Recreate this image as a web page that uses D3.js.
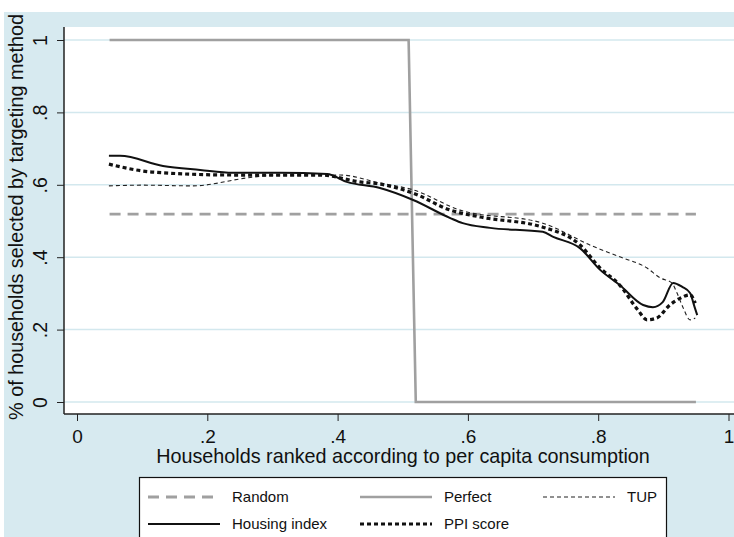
<!DOCTYPE html>
<html lang="en">
<head>
<meta charset="UTF-8">
<title>Targeting methods</title>
<script src="https://d3js.org/d3.v7.min.js"></script>
<style>
	body { margin: 0; padding: 0; background: #fff; }
	svg { display: block; font-family: "Liberation Sans", Arial, sans-serif; }
</style>
</head>
<body>
<div id="chart"></div>
<script>
	// values
	const xTicks = [0, 0.2, 0.4, 0.6, 0.8, 1];
	const yTicks = [0, 0.2, 0.4, 0.6, 0.8, 1];

	const randomX = [0.05, 0.95];
	const randomY = [0.519, 0.519];

	const perfectX = [0.05, 0.509, 0.52, 0.95];
	const perfectY = [1, 1, 0, 0];

	const housingX = [0.049, 0.066, 0.132, 0.189, 0.239, 0.312, 0.384, 0.414, 0.465, 0.516, 0.573, 0.592, 0.634, 0.715, 0.731, 0.772, 0.803, 0.833, 0.869, 0.884, 0.899, 0.915, 0.929, 0.941, 0.948, 0.952];
	const housingY = [0.680, 0.680, 0.652, 0.641, 0.633, 0.633, 0.630, 0.608, 0.591, 0.558, 0.508, 0.494, 0.481, 0.470, 0.456, 0.425, 0.365, 0.323, 0.268, 0.262, 0.276, 0.329, 0.318, 0.301, 0.262, 0.240];

	const ppiX = [0.049, 0.117, 0.239, 0.373, 0.434, 0.465, 0.516, 0.573, 0.619, 0.715, 0.772, 0.803, 0.833, 0.861, 0.875, 0.890, 0.910, 0.926, 0.941, 0.949];
	const ppiY = [0.657, 0.635, 0.627, 0.627, 0.608, 0.602, 0.577, 0.530, 0.511, 0.483, 0.434, 0.370, 0.323, 0.254, 0.227, 0.232, 0.268, 0.287, 0.296, 0.273];

	const tupX = [0.049, 0.101, 0.178, 0.261, 0.307, 0.404, 0.465, 0.516, 0.588, 0.715, 0.792, 0.833, 0.875, 0.895, 0.913, 0.921, 0.930, 0.941, 0.949];
	const tupY = [0.597, 0.599, 0.597, 0.619, 0.627, 0.627, 0.605, 0.586, 0.530, 0.494, 0.430, 0.401, 0.370, 0.343, 0.329, 0.301, 0.262, 0.227, 0.232];

	const W = 734, H = 537;
	const blue = "#d7eaf0";

	const svg = d3.select("#chart").append("svg")
		.attr("width", W)
		.attr("height", H);

	// outer graph region and white plot region
	svg.append("rect").attr("x", 4).attr("y", 12).attr("width", W - 4).attr("height", H - 12).attr("fill", blue);
	svg.append("rect").attr("x", 64).attr("y", 27).attr("width", W - 64).attr("height", 414 - 27).attr("fill", "#fff");

	const x = d3.scaleLinear().domain([0, 1]).range([77, 728.5]);
	const y = d3.scaleLinear().domain([0, 1]).range([402, 40]);

	// gridlines
	svg.append("g").selectAll("line")
		.data(yTicks)
		.enter().append("line")
		.attr("x1", 64).attr("x2", W)
		.attr("y1", d => y(d)).attr("y2", d => y(d))
		.attr("stroke", "#d3e8ee")
		.attr("stroke-width", 1.5);

	// axes
	const fmt = d => d === 0 ? "0" : d === 1 ? "1" : String(d).replace(/^0/, "");

	const yAxis = svg.append("g")
		.attr("transform", "translate(64,0)")
		.call(d3.axisLeft(y).tickValues(yTicks).tickSize(7).tickFormat(fmt));
	yAxis.select(".domain").attr("d", "M0,27V414").attr("stroke", "#222").attr("stroke-width", 1.5);
	yAxis.selectAll(".tick line").attr("stroke", "#222");
	yAxis.selectAll(".tick text")
		.attr("x", null).attr("dy", null)
		.attr("transform", "translate(-17,0) rotate(-90)")
		.attr("text-anchor", "middle")
		.attr("fill", "#111")
		.style("font-size", "19.5px");

	const xAxis = svg.append("g")
		.attr("transform", "translate(0,414)")
		.call(d3.axisBottom(x).tickValues(xTicks).tickSize(7).tickFormat(fmt));
	xAxis.select(".domain").attr("d", "M64,0H" + W).attr("stroke", "#222").attr("stroke-width", 1.5);
	xAxis.selectAll(".tick line").attr("stroke", "#222");
	xAxis.selectAll(".tick text")
		.attr("y", 29).attr("dy", null)
		.attr("fill", "#111")
		.style("font-size", "19px");

	// axis titles
	svg.append("text")
		.attr("x", 403).attr("y", 463)
		.attr("text-anchor", "middle")
		.style("font-size", "19.8px")
		.attr("fill", "#111")
		.text("Households ranked according to per capita consumption");

	svg.append("text")
		.attr("transform", "translate(23,217) rotate(-90)")
		.attr("text-anchor", "middle")
		.style("font-size", "19.8px")
		.attr("fill", "#111")
		.text("% of households selected by targeting method");

	// series
	const series = [
		{ name: "Random", xs: randomX, ys: randomY, color: "#a0a0a0", width: 2.8, dash: "11,7" },
		{ name: "Perfect", xs: perfectX, ys: perfectY, color: "#a0a0a0", width: 2.6, dash: null },
		{ name: "TUP", xs: tupX, ys: tupY, color: "#222", width: 1.1, dash: "4,3" },
		{ name: "Housing index", xs: housingX, ys: housingY, color: "#111", width: 2, dash: null },
		{ name: "PPI score", xs: ppiX, ys: ppiY, color: "#111", width: 3.2, dash: "4,3" }
	];

	const line = d3.line()
		.x(d => x(d[0]))
		.y(d => y(d[1]));

	series.forEach(s => {
		const pts = s.xs.map((v, i) => [v, s.ys[i]]);
		const isStep = s.name === "Perfect" || s.name === "Random";
		svg.append("path")
			.datum(pts)
			.attr("fill", "none")
			.attr("stroke", s.color)
			.attr("stroke-width", s.width)
			.attr("stroke-dasharray", s.dash)
			.attr("d", line.curve(isStep ? d3.curveLinear : d3.curveMonotoneX));
	});

	// legend
	const legend = svg.append("g");
	legend.append("rect")
		.attr("x", 139.5).attr("y", 477.5)
		.attr("width", 527).attr("height", 80)
		.attr("fill", "#fff")
		.attr("stroke", "#111")
		.attr("stroke-width", 1.2);

	const legendPos = [
		{ lx: 148, ly: 497 }, { lx: 360, ly: 497 }, { lx: 543, ly: 497 },
		{ lx: 148, ly: 524 }, { lx: 360, ly: 524 }
	];

	series.forEach((s, i) => {
		const p = legendPos[i];
		legend.append("line")
			.attr("x1", p.lx).attr("x2", p.lx + 72)
			.attr("y1", p.ly).attr("y2", p.ly)
			.attr("stroke", s.color)
			.attr("stroke-width", s.width)
			.attr("stroke-dasharray", s.dash);
		legend.append("text")
			.attr("x", p.lx + 84).attr("y", p.ly + 5)
			.style("font-size", "15px")
			.attr("fill", "#111")
			.text(s.name);
	});
</script>
</body>
</html>
